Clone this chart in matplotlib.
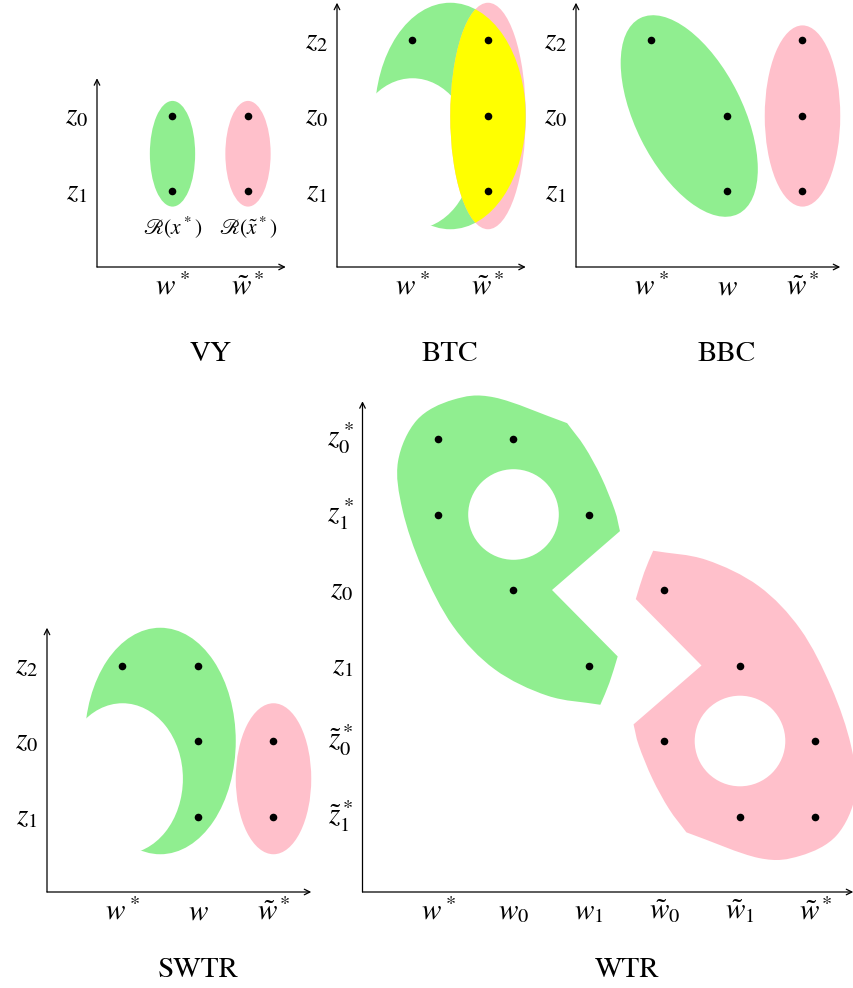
import matplotlib
matplotlib.use("Agg")
import matplotlib.pyplot as plt
from matplotlib.patches import Ellipse, PathPatch
from matplotlib.path import Path
import numpy as np

plt.rcParams["mathtext.fontset"] = "stix"
plt.rcParams["font.family"] = "STIXGeneral"

W, H = 854, 988
U = 75.5          # pixels per grid unit
PAD = 0.08

GREEN = "#90EE90"
PINK = "#FFC0CB"
YELLOW = "#FFFF00"

# ---- panel VY
vy_xlabels = [r"$w^*$", r"$\tilde{w}^*$"]
vy_ylabels = [r"$z_1$", r"$z_0$"]
vy_green_pts = [(1, 1), (1, 2)]
vy_pink_pts = [(2, 1), (2, 2)]
vy_regions = [r"$\mathscr{R}(x^*)$", r"$\mathscr{R}(\tilde{x}^*)$"]

# ---- panel BTC
btc_xlabels = [r"$w^*$", r"$\tilde{w}^*$"]
btc_ylabels = [r"$z_1$", r"$z_0$", r"$z_2$"]
btc_pts = [(1, 3), (2, 3), (2, 2), (2, 1)]

# ---- panel BBC
bbc_xlabels = [r"$w^*$", r"$w$", r"$\tilde{w}^*$"]
bbc_ylabels = [r"$z_1$", r"$z_0$", r"$z_2$"]
bbc_pts = [(1, 3), (2, 2), (2, 1), (3, 3), (3, 2), (3, 1)]

# ---- panel SWTR
swtr_xlabels = [r"$w^*$", r"$w$", r"$\tilde{w}^*$"]
swtr_ylabels = [r"$z_1$", r"$z_0$", r"$z_2$"]
swtr_pts = [(1, 3), (2, 3), (2, 2), (2, 1), (3, 2), (3, 1)]

# ---- panel WTR
wtr_xlabels = [r"$w^*$", r"$w_0$", r"$w_1$", r"$\tilde{w}_0$", r"$\tilde{w}_1$", r"$\tilde{w}^*$"]
wtr_ylabels = [r"$\tilde{z}_1^*$", r"$\tilde{z}_0^*$", r"$z_1$", r"$z_0$", r"$z_1^*$", r"$z_0^*$"]
wtr_pts = [(1, 6), (2, 6), (1, 5), (3, 5), (2, 4), (3, 3),
           (4, 4), (5, 3), (4, 2), (6, 2), (5, 1), (6, 1)]

# outline of the green region in WTR (pink one is its point reflection)
wtr_run_a = [(2.71, 6.21), (2.94, 5.90), (3.16, 5.50), (3.34, 5.06), (3.41, 4.78)]
wtr_notch = [(2.51, 4.0), (3.38, 3.12)]
wtr_run_b = [(3.38, 3.12), (3.27, 2.77), (3.15, 2.48)]
wtr_run_c = [(3.15, 2.48), (2.45, 2.60), (1.75, 2.95), (1.20, 3.52), (0.79, 4.29),
             (0.53, 5.06), (0.47, 5.70), (0.72, 6.25), (1.20, 6.52), (1.75, 6.55),
             (2.71, 6.21)]
wtr_hole = (2, 5)
wtr_hole_r = 0.6

FS = 21


def panel(ox, oy, xmax, ymax):
    x0, x1 = -PAD, xmax + PAD
    y0, y1 = -PAD, ymax + PAD
    rect = [(ox + x0 * U) / W, (H - oy + y0 * U) / H, (x1 - x0) * U / W, (y1 - y0) * U / H]
    ax = fig.add_axes(rect)
    ax.set_xlim(x0, x1)
    ax.set_ylim(y0, y1)
    ax.axis("off")
    for end in [(xmax, 0), (0, ymax)]:
        ax.annotate("", xy=end, xytext=(0, 0),
                    arrowprops=dict(arrowstyle="->", lw=0.9, color="black",
                                    shrinkA=0, shrinkB=0, mutation_scale=10))
    return ax


def labels(ax, xlabels, ylabels, title, title_y):
    for i, s in enumerate(xlabels):
        ax.text(i + 1, -0.36, s, ha="center", va="baseline", fontsize=FS)
    for j, s in enumerate(ylabels):
        ax.text(-0.12, j + 1 - 0.1, s, ha="right", va="baseline", fontsize=FS)
    ax.text((1 + len(xlabels)) / 2, title_y, title, ha="center", va="baseline", fontsize=FS)


def dots(ax, pts):
    pts = np.array(pts, dtype=float)
    ax.scatter(pts[:, 0], pts[:, 1], s=30, color="black", zorder=5, linewidths=0)


def smooth(pts):
    # Catmull-Rom run turned into cubic Bezier pieces
    p = np.array(pts, dtype=float)
    n = len(p)
    t = np.zeros_like(p)
    t[0] = p[1] - p[0]
    t[-1] = p[-1] - p[-2]
    for i in range(1, n - 1):
        t[i] = (p[i + 1] - p[i - 1]) / 2
    verts = []
    for i in range(n - 1):
        verts += [p[i] + t[i] / 3, p[i + 1] - t[i + 1] / 3, p[i + 1]]
    return verts


def wtr_path(flip=False):
    verts = [np.array(wtr_run_a[0], dtype=float)]
    codes = [Path.MOVETO]
    v = smooth(wtr_run_a)
    verts += v
    codes += [Path.CURVE4] * len(v)
    for q in wtr_notch:
        verts.append(np.array(q, dtype=float))
        codes.append(Path.LINETO)
    for run in (wtr_run_b, wtr_run_c):
        v = smooth(run)
        verts += v
        codes += [Path.CURVE4] * len(v)
    verts.append(verts[0])
    codes.append(Path.CLOSEPOLY)
    verts = np.array(verts)
    if flip:
        verts = 7 - verts
    return Path(verts, codes)


fig = plt.figure(figsize=(W / 100, H / 100), dpi=100)

# VY
ax = panel(97, 267, 2.5, 2.5)
ax.add_patch(Ellipse((1, 1.5), 0.6, 1.4, color=GREEN, lw=0))
ax.add_patch(Ellipse((2, 1.5), 0.6, 1.4, color=PINK, lw=0))
dots(ax, vy_green_pts + vy_pink_pts)
for i, s in enumerate(vy_regions):
    ax.text(i + 1, 0.44, s, ha="center", va="baseline", fontsize=15.5)
labels(ax, vy_xlabels, vy_ylabels, "VY", -1.245)

# BTC
ax = panel(337, 267, 2.5, 3.5)
outer = Ellipse((1.5, 2), 2.0, 3.0, color=GREEN, lw=0)
ax.add_patch(outer)
ax.add_patch(Ellipse((1, 1.5), 1.6, 2.0, color="white", lw=0))
ax.add_patch(Ellipse((2, 2), 1.0, 3.0, color=PINK, lw=0))
both = Ellipse((2, 2), 1.0, 3.0, color=YELLOW, lw=0)
ax.add_patch(both)
both.set_clip_path(outer)
dots(ax, btc_pts)
labels(ax, btc_xlabels, btc_ylabels, "BTC", -1.245)

# BBC
ax = panel(576, 267, 3.5, 3.5)
ax.add_patch(Ellipse((1.5, 2), 2.9, 1.42, angle=-63.4, color=GREEN, lw=0))
ax.add_patch(Ellipse((3, 2), 1.0, 2.4, color=PINK, lw=0))
dots(ax, bbc_pts)
labels(ax, bbc_xlabels, bbc_ylabels, "BBC", -1.245)

# SWTR
ax = panel(47, 892, 3.5, 3.5)
ax.add_patch(Ellipse((1.5, 2), 2.0, 3.0, color=GREEN, lw=0))
ax.add_patch(Ellipse((1, 1.5), 1.6, 2.0, color="white", lw=0))
ax.add_patch(Ellipse((3, 1.5), 1.0, 2.0, color=PINK, lw=0))
dots(ax, swtr_pts)
labels(ax, swtr_xlabels, swtr_ylabels, "SWTR", -1.125)

# WTR
ax = panel(362.5, 892, 6.5, 6.5)
ax.add_patch(PathPatch(wtr_path(), color=GREEN, lw=0))
ax.add_patch(PathPatch(wtr_path(flip=True), color=PINK, lw=0, clip_on=False))
ax.add_patch(Ellipse(wtr_hole, 2 * wtr_hole_r, 2 * wtr_hole_r, color="white", lw=0))
ax.add_patch(Ellipse((7 - wtr_hole[0], 7 - wtr_hole[1]), 2 * wtr_hole_r, 2 * wtr_hole_r,
                     color="white", lw=0))
dots(ax, wtr_pts)
labels(ax, wtr_xlabels, wtr_ylabels, "WTR", -1.125)

fig.savefig("out.png", dpi=100)
